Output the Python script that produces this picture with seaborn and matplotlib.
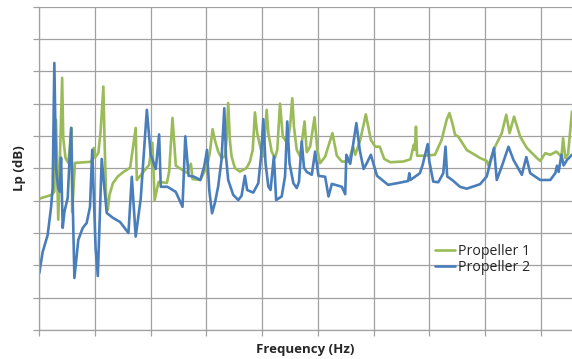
import pandas as pd
import numpy as np
import matplotlib
matplotlib.use('Agg')
import matplotlib.pyplot as plt
import seaborn as sns

# Propeller 1 (green) - frequency (Hz) / Lp (dB)
freq_p1 = [0, 22, 27, 30, 34, 41, 43, 47, 52, 58,
           59, 64, 91, 96, 98, 100, 106, 110, 115, 117,
           120, 123, 126, 132, 141, 151, 163, 173, 175, 193,
           197, 203, 207, 214, 229, 233, 239, 245, 265, 272,
           275, 289, 301, 306, 311, 315, 321, 327, 333, 336,
           339, 342, 345, 351, 360, 372, 378, 383, 387, 391,
           397, 402, 408, 411, 417, 423, 427, 432, 437, 445,
           450, 454, 457, 462, 468, 476, 480, 486, 494, 499,
           504, 513, 526, 534, 543, 555, 563, 567, 576, 586,
           595, 603, 611, 619, 630, 653, 666, 672, 674, 676,
           678, 689, 710, 722, 731, 736, 742, 746, 752, 767,
           791, 803, 806, 818, 830, 838, 844, 852, 863, 875,
           893, 899, 908, 917, 928, 937, 940, 944, 949, 956]
lp_p1 = [40.6, 41.8, 42.8, 65.0, 34.1, 78.0, 59.3, 53.2, 51.7, 62.5,
         36.5, 51.7, 52.0, 52.6, 56.3, 53.3, 54.8, 61.4, 75.3, 59.3,
         40.8, 37.2, 41.8, 45.4, 47.5, 48.9, 50.2, 62.5, 46.4, 50.2,
         51.1, 57.9, 40.2, 45.8, 45.5, 48.9, 65.6, 50.8, 48.6, 51.4,
         46.7, 46.4, 50.6, 54.8, 62.1, 58.8, 55.2, 53.2, 53.7, 58.8,
         70.2, 58.8, 53.7, 50.1, 49.0, 50.1, 52.1, 55.7, 67.3, 60.9,
         56.3, 53.7, 68.1, 60.9, 55.2, 53.2, 55.7, 70.0, 59.8, 57.8,
         62.9, 71.7, 62.9, 55.7, 53.7, 64.5, 55.0, 56.7, 65.8, 55.7,
         51.6, 53.6, 60.9, 53.9, 52.1, 52.1, 56.7, 54.2, 58.8, 66.7,
         58.8, 56.7, 56.7, 52.9, 51.9, 52.1, 52.8, 57.3, 55.7, 62.9,
         53.9, 53.9, 54.2, 58.8, 65.0, 67.1, 63.5, 60.4, 59.8, 55.7,
         53.2, 52.3, 50.8, 56.7, 60.9, 66.6, 60.9, 66.0, 59.8, 56.3,
         53.2, 52.3, 54.7, 54.2, 55.2, 53.6, 59.3, 53.2, 54.5, 67.6]

# Propeller 2 (blue)
freq_p2 = [0, 6, 15, 21, 24, 27, 30, 34, 37, 39,
           42, 45, 51, 57, 63, 70, 78, 85, 91, 95,
           101, 105, 112, 121, 132, 145, 160, 166, 173, 182,
           193, 200, 209, 215, 218, 230, 245, 257, 262, 268,
           278, 289, 296, 301, 305, 310, 315, 321, 327, 332,
           335, 339, 348, 357, 363, 369, 373, 384, 393, 398,
           402, 406, 411, 415, 421, 425, 435, 441, 445, 449,
           456, 462, 466, 471, 475, 480, 489, 495, 501, 513,
           519, 525, 543, 549, 551, 558, 569, 575, 582, 588,
           595, 606, 626, 648, 662, 664, 666, 683, 688, 697,
           700, 707, 716, 725, 729, 732, 741, 755, 767, 791,
           803, 816, 821, 830, 842, 851, 866, 874, 881, 899,
           917, 926, 929, 932, 937, 941, 947, 956]
lp_p2 = [17.6, 24.1, 29.4, 37.8, 44.0, 82.6, 50.1, 43.9, 42.8, 53.3,
         31.6, 36.5, 40.9, 62.5, 16.1, 27.9, 31.6, 33.1, 38.1, 55.7,
         25.4, 16.7, 52.9, 36.2, 34.7, 33.4, 30.0, 47.4, 28.9, 40.6,
         68.1, 54.2, 49.8, 60.5, 44.3, 44.3, 42.7, 38.1, 59.9, 47.7,
         47.4, 46.4, 50.6, 55.7, 43.3, 36.1, 39.2, 44.4, 52.6, 68.6,
         53.7, 46.4, 41.8, 40.2, 41.5, 47.7, 43.3, 42.5, 45.4, 53.7,
         65.2, 51.6, 44.4, 43.3, 53.7, 40.2, 41.3, 47.5, 64.5, 51.6,
         45.4, 43.9, 45.8, 58.3, 50.2, 48.9, 48.0, 55.2, 47.7, 47.4,
         41.3, 45.2, 44.3, 42.0, 54.2, 51.4, 64.0, 55.7, 49.8, 51.7,
         54.2, 47.7, 44.9, 45.6, 46.1, 48.5, 46.4, 48.5, 51.1, 57.5,
         52.1, 45.9, 45.7, 48.5, 56.7, 47.5, 46.4, 44.3, 43.7, 45.1,
         47.5, 56.3, 46.4, 50.6, 56.7, 52.6, 48.0, 53.5, 48.5, 46.4,
         46.4, 48.5, 50.8, 48.9, 54.2, 50.9, 52.6, 54.2]

series_names = ['Propeller 1', 'Propeller 2']
colors = ['#9BBB59', '#4A7EBB']

df = pd.concat([
    pd.DataFrame({'Frequency': freq_p1, 'Lp': lp_p1, 'Series': series_names[0]}),
    pd.DataFrame({'Frequency': freq_p2, 'Lp': lp_p2, 'Series': series_names[1]}),
], ignore_index=True)

sns.set_theme(style="white")
plt.rcParams['font.family'] = ['Open Sans', 'DejaVu Sans']

fig = plt.figure(figsize=(5.72, 3.59), dpi=100)
ax = fig.add_axes([39.3 / 572, 29 / 359, 1 - 39.3 / 572, 323.3 / 359])

sns.lineplot(data=df, x='Frequency', y='Lp', hue='Series', palette=colors,
             estimator=None, sort=False, linewidth=1.9, ax=ax)

ax.set_xlim(0, 956)
ax.set_ylim(0, 100)
ax.set_xticks(np.arange(0, 901, 100))
ax.set_yticks(np.arange(0, 101, 10))
ax.set_xticklabels([])
ax.set_yticklabels([])
ax.grid(True, color='#a0a0a0', linewidth=0.9)
ax.set_axisbelow(True)
ax.tick_params(axis='both', which='both', direction='out', length=4, width=0.9,
               color='#a0a0a0', left=True, bottom=True)
for s in ['top', 'right']:
    ax.spines[s].set_visible(False)
for s in ['left', 'bottom']:
    ax.spines[s].set_color('#a0a0a0')
    ax.spines[s].set_linewidth(0.9)

ax.set_xlabel('Frequency (Hz)', fontsize=9.5, fontweight='bold', labelpad=2)
ax.set_ylabel('Lp (dB)', fontsize=9.5, fontweight='bold', labelpad=2)

ax.legend(loc='center left', bbox_to_anchor=(0.718, 0.218), frameon=False,
          fontsize=10.2, handlelength=1.45, handletextpad=0.2, labelspacing=0.1)

fig.savefig('out.png', dpi=100)
plt.close()
